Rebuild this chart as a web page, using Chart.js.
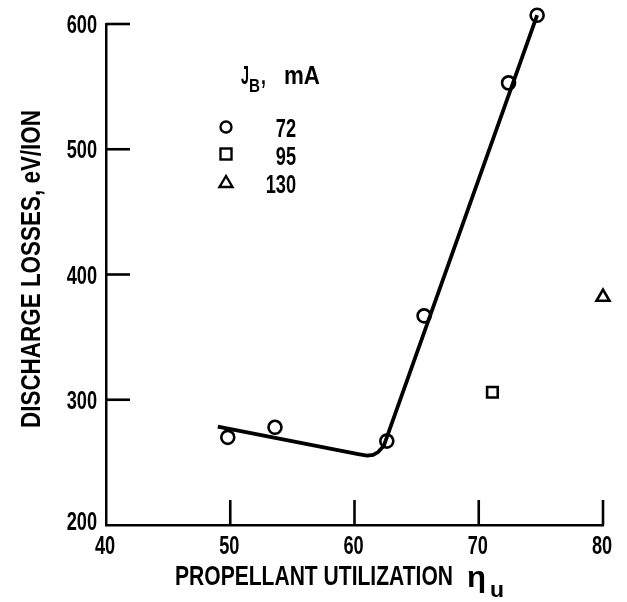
<!DOCTYPE html>
<html>
<head>
<meta charset="utf-8">
<script src="https://cdn.jsdelivr.net/npm/chart.js@4.4.1/dist/chart.umd.min.js"></script>
<style>
  html, body { margin: 0; padding: 0; background: #fff; }
  #wrap { width: 627px; height: 602px; }
</style>
</head>
<body>
<div id="wrap"><canvas id="chart" width="627" height="602"></canvas></div>
<script>
const xTicks = [40, 50, 60, 70, 80];
const yTicks = [200, 300, 400, 500, 600];

// beam current J_B = 72 mA (circles)
const util72 = [49.8, 53.6, 62.6, 65.6, 72.4, 74.7];
const loss72 = [270, 278, 267, 367, 553, 607];
// 95 mA (square)
const util95 = [71.1];
const loss95 = [306];
// 130 mA (triangle)
const util130 = [80.0];
const loss130 = [382];

// faired curve through the 72 mA points
const fitX = [49.0, 60.3, 61.0, 61.5, 61.9, 62.35, 74.7];
const fitY = [278.5, 256.6, 255.4, 256.0, 258.2, 263, 607];

const FONT = "'Liberation Sans', Arial, sans-serif";
const INK = '#000';
const SQUEEZE = 0.7; // the original lettering is a condensed face

function pts(xs, ys) {
    return xs.map((x, i) => ({ x: x, y: ys[i] }));
}

// draw text squeezed horizontally, either by a fixed factor or to fit a width
function squeezed(ctx, text, x, y, size, align, width) {
    ctx.font = 'bold ' + size + 'px ' + FONT;
    const w = ctx.measureText(text).width;
    const sx = width ? width / w : SQUEEZE;
    ctx.save();
    ctx.translate(x, y);
    ctx.scale(sx, 1);
    ctx.textAlign = align;
    ctx.textBaseline = 'alphabetic';
    ctx.fillText(text, 0, 0);
    ctx.restore();
    return w * sx;
}

// tick marks point inward from the axes
const innerTicks = {
    id: 'innerTicks',
    afterDatasetsDraw(chart) {
        const ctx = chart.ctx;
        const xs = chart.scales.x, ys = chart.scales.y;
        const area = chart.chartArea;
        ctx.save();
        ctx.strokeStyle = INK;
        ctx.lineWidth = 2.6;
        xTicks.slice(1).forEach(v => {
            const px = xs.getPixelForValue(v);
            ctx.beginPath();
            ctx.moveTo(px, area.bottom);
            ctx.lineTo(px, area.bottom - 25);
            ctx.stroke();
        });
        yTicks.slice(1).forEach(v => {
            const py = ys.getPixelForValue(v);
            ctx.beginPath();
            ctx.moveTo(area.left, py);
            ctx.lineTo(area.left + 24, py);
            ctx.stroke();
        });
        ctx.restore();
    }
};

// tick labels, axis titles and the key
const lettering = {
    id: 'lettering',
    afterDraw(chart) {
        const ctx = chart.ctx;
        const xs = chart.scales.x, ys = chart.scales.y;
        const area = chart.chartArea;
        ctx.save();
        ctx.fillStyle = INK;

        xTicks.forEach(v => {
            squeezed(ctx, String(v), xs.getPixelForValue(v) - 1, 554, 26, 'center');
        });
        yTicks.forEach((v, i) => {
            const py = ys.getPixelForValue(v);
            squeezed(ctx, String(v), area.left - 9, py + 9 - (i === 0 ? 4 : 0), 26, 'right');
        });

        // y title
        ctx.save();
        ctx.translate(40, 269);
        ctx.rotate(-Math.PI / 2);
        squeezed(ctx, 'DISCHARGE LOSSES, eV/ION', 0, 0, 27, 'center', 318);
        ctx.restore();

        // x title with eta_u
        squeezed(ctx, 'PROPELLANT UTILIZATION', 175, 585, 28, 'left', 278);
        squeezed(ctx, '\u03B7', 467, 587, 29, 'left', 19);
        squeezed(ctx, 'u', 490, 597, 22, 'left', 14);

        // key
        let kx = 241;
        kx += squeezed(ctx, 'J', kx, 84, 25, 'left', 8);
        kx += squeezed(ctx, 'B', kx, 92, 19, 'left', 11);
        squeezed(ctx, ',', kx + 1, 84, 25, 'left');
        squeezed(ctx, 'mA', 284, 84, 25, 'left', 36);

        squeezed(ctx, '72', 296, 137, 26, 'right');
        squeezed(ctx, '95', 296, 165, 26, 'right');
        squeezed(ctx, '130', 296, 193, 26, 'right');

        ctx.strokeStyle = INK;
        ctx.lineWidth = 2.4;
        ctx.beginPath();
        ctx.arc(226, 127, 5.5, 0, Math.PI * 2);
        ctx.stroke();
        ctx.strokeRect(220.5, 148.5, 11, 11);
        ctx.beginPath();
        ctx.moveTo(226, 176);
        ctx.lineTo(232.5, 187);
        ctx.lineTo(219.5, 187);
        ctx.closePath();
        ctx.stroke();
        ctx.restore();
    }
};

const ctx = document.getElementById('chart').getContext('2d');
const chart = new Chart(ctx, {
    type: 'scatter',
    data: {
        datasets: [{
            label: 'fit',
            data: pts(fitX, fitY),
            showLine: true,
            borderColor: INK,
            borderWidth: 3.8,
            pointRadius: 0,
            tension: 0,
            clip: false
        }, {
            label: '72',
            data: pts(util72, loss72),
            pointStyle: 'circle',
            pointRadius: 6.5,
            borderWidth: 2.6,
            borderColor: INK,
            backgroundColor: '#fff',
            clip: false
        }, {
            label: '95',
            data: pts(util95, loss95),
            pointStyle: 'rect',
            pointRadius: 7.5,
            borderWidth: 2.6,
            borderColor: INK,
            backgroundColor: '#fff',
            clip: false
        }, {
            label: '130',
            data: pts(util130, loss130),
            pointStyle: 'triangle',
            pointRadius: 7.5,
            borderWidth: 2.6,
            borderColor: INK,
            backgroundColor: '#fff',
            clip: false
        }]
    },
    options: {
        responsive: false,
        animation: false,
        layout: { padding: { top: 24, right: 24, left: 0, bottom: 0 } },
        plugins: {
            legend: { display: false },
            tooltip: { enabled: false }
        },
        scales: {
            x: {
                type: 'linear',
                min: 40,
                max: 80,
                afterBuildTicks: s => { s.ticks = xTicks.map(v => ({ value: v })); },
                afterFit: s => { s.height = 77; },
                grid: { display: false, drawTicks: false },
                border: { display: true, color: INK, width: 2.5 },
                ticks: { display: false }
            },
            y: {
                type: 'linear',
                min: 200,
                max: 600,
                afterBuildTicks: s => { s.ticks = yTicks.map(v => ({ value: v })); },
                afterFit: s => { s.width = 106; },
                grid: { display: false, drawTicks: false },
                border: { display: true, color: INK, width: 2.5 },
                ticks: { display: false }
            }
        }
    },
    plugins: [innerTicks, lettering]
});
</script>
</body>
</html>
